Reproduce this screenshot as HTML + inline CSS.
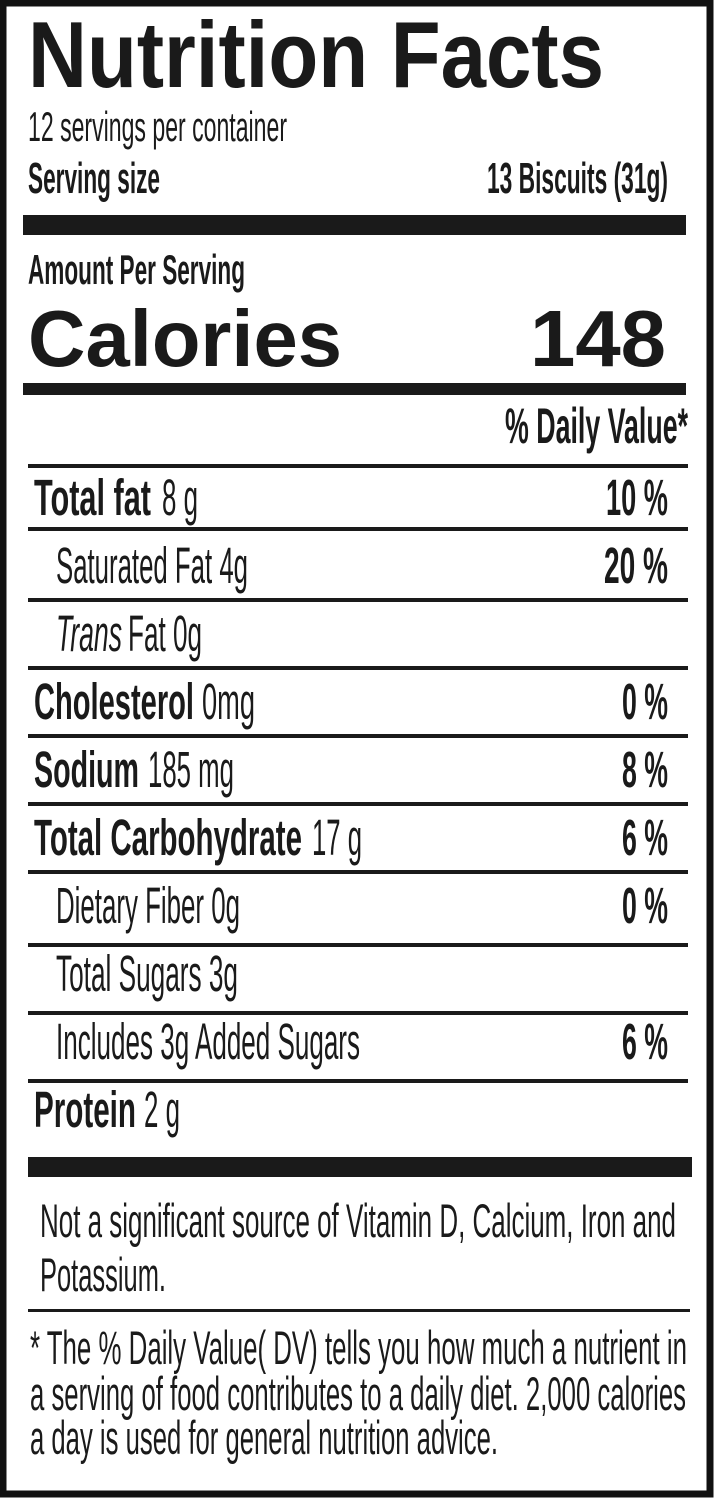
<!DOCTYPE html>
<html><head><meta charset="utf-8"><style>
html,body{margin:0;padding:0;background:#fff;}
svg{display:block;}
text{font-family:"Liberation Sans",sans-serif;fill:#1a1a1a;}
.b{font-weight:bold;}
</style></head><body>
<svg width="715" height="1500" viewBox="0 0 715 1500" xmlns="http://www.w3.org/2000/svg">
<rect x="0" y="0" width="715" height="1500" fill="#fff"/>
<rect x="3" y="3" width="707" height="1491" fill="none" stroke="#111" stroke-width="7"/>
<text class="b" x="28" y="87" font-size="94" textLength="576" lengthAdjust="spacingAndGlyphs">Nutrition Facts</text>
<text x="28" y="141" font-size="42" textLength="259" lengthAdjust="spacingAndGlyphs">12 servings per container</text>
<text class="b" x="28" y="193" font-size="44" textLength="132" lengthAdjust="spacingAndGlyphs">Serving size</text>
<text class="b" x="487" y="193" font-size="44" textLength="181" lengthAdjust="spacingAndGlyphs">13 Biscuits (31g)</text>
<rect x="23" y="215" width="663" height="20" fill="#1a1a1a"/>
<text class="b" x="28" y="284" font-size="42" textLength="217" lengthAdjust="spacingAndGlyphs">Amount Per Serving</text>
<text class="b" x="28" y="366" font-size="80" textLength="314" lengthAdjust="spacingAndGlyphs">Calories</text>
<text class="b" x="530" y="366" font-size="80" textLength="136" lengthAdjust="spacingAndGlyphs">148</text>
<rect x="23" y="383" width="663" height="12" fill="#1a1a1a"/>
<text class="b" x="505" y="443" font-size="50" textLength="183" lengthAdjust="spacingAndGlyphs">% Daily Value*</text>
<rect x="28" y="464" width="660" height="4" fill="#1a1a1a"/>

<text class="b" x="34" y="515" font-size="51" textLength="117" lengthAdjust="spacingAndGlyphs">Total fat</text>
<text x="162" y="515" font-size="51" textLength="36" lengthAdjust="spacingAndGlyphs">8 g</text>
<text class="b" x="606" y="515" font-size="51" textLength="62" lengthAdjust="spacingAndGlyphs">10 %</text>
<rect x="28" y="527" width="660" height="4" fill="#1a1a1a"/>

<text x="56" y="583" font-size="51" textLength="192" lengthAdjust="spacingAndGlyphs">Saturated Fat 4g</text>
<text class="b" x="604" y="583" font-size="51" textLength="64" lengthAdjust="spacingAndGlyphs">20 %</text>
<rect x="28" y="598" width="660" height="4" fill="#1a1a1a"/>

<text x="56" y="651" font-size="51" font-style="italic" textLength="66" lengthAdjust="spacingAndGlyphs">Trans</text>
<text x="128" y="651" font-size="51" textLength="74" lengthAdjust="spacingAndGlyphs">Fat 0g</text>
<rect x="28" y="666" width="660" height="4" fill="#1a1a1a"/>

<text class="b" x="34" y="719" font-size="51" textLength="160" lengthAdjust="spacingAndGlyphs">Cholesterol</text>
<text x="202" y="719" font-size="51" textLength="53" lengthAdjust="spacingAndGlyphs">0mg</text>
<text class="b" x="622" y="719" font-size="51" textLength="46" lengthAdjust="spacingAndGlyphs">0 %</text>
<rect x="28" y="734" width="660" height="4" fill="#1a1a1a"/>

<text class="b" x="34" y="787" font-size="51" textLength="105" lengthAdjust="spacingAndGlyphs">Sodium</text>
<text x="148" y="787" font-size="51" textLength="86" lengthAdjust="spacingAndGlyphs">185 mg</text>
<text class="b" x="622" y="787" font-size="51" textLength="46" lengthAdjust="spacingAndGlyphs">8 %</text>
<rect x="28" y="802" width="660" height="4" fill="#1a1a1a"/>

<text class="b" x="34" y="855" font-size="51" textLength="268" lengthAdjust="spacingAndGlyphs">Total Carbohydrate</text>
<text x="312" y="855" font-size="51" textLength="50" lengthAdjust="spacingAndGlyphs">17 g</text>
<text class="b" x="622" y="855" font-size="51" textLength="46" lengthAdjust="spacingAndGlyphs">6 %</text>
<rect x="28" y="870" width="660" height="4" fill="#1a1a1a"/>

<text x="56" y="923" font-size="51" textLength="184" lengthAdjust="spacingAndGlyphs">Dietary Fiber 0g</text>
<text class="b" x="622" y="923" font-size="51" textLength="46" lengthAdjust="spacingAndGlyphs">0 %</text>
<rect x="28" y="943" width="660" height="4" fill="#1a1a1a"/>

<text x="56" y="991" font-size="51" textLength="182" lengthAdjust="spacingAndGlyphs">Total Sugars 3g</text>
<rect x="28" y="1011" width="660" height="4" fill="#1a1a1a"/>

<text x="56" y="1059" font-size="51" textLength="304" lengthAdjust="spacingAndGlyphs">Includes 3g Added Sugars</text>
<text class="b" x="622" y="1059" font-size="51" textLength="46" lengthAdjust="spacingAndGlyphs">6 %</text>
<rect x="28" y="1079" width="660" height="4" fill="#1a1a1a"/>

<text class="b" x="34" y="1127" font-size="51" textLength="102" lengthAdjust="spacingAndGlyphs">Protein</text>
<text x="144" y="1127" font-size="51" textLength="36" lengthAdjust="spacingAndGlyphs">2 g</text>

<rect x="28" y="1157" width="664" height="20" fill="#1a1a1a"/>
<text x="40" y="1237" font-size="47" textLength="636" lengthAdjust="spacingAndGlyphs">Not a significant source of Vitamin D, Calcium, Iron and</text>
<text x="40" y="1291" font-size="47" textLength="126" lengthAdjust="spacingAndGlyphs">Potassium.</text>
<rect x="28" y="1309" width="662" height="3" fill="#1a1a1a"/>
<text x="30" y="1364" font-size="47" textLength="657" lengthAdjust="spacingAndGlyphs">* The % Daily Value( DV) tells you how much a nutrient in</text>
<text x="30" y="1410" font-size="47" textLength="656" lengthAdjust="spacingAndGlyphs">a serving of food contributes to a daily diet. 2,000 calories</text>
<text x="30" y="1454" font-size="47" textLength="468" lengthAdjust="spacingAndGlyphs">a day is used for general nutrition advice.</text>
</svg>
</body></html>
